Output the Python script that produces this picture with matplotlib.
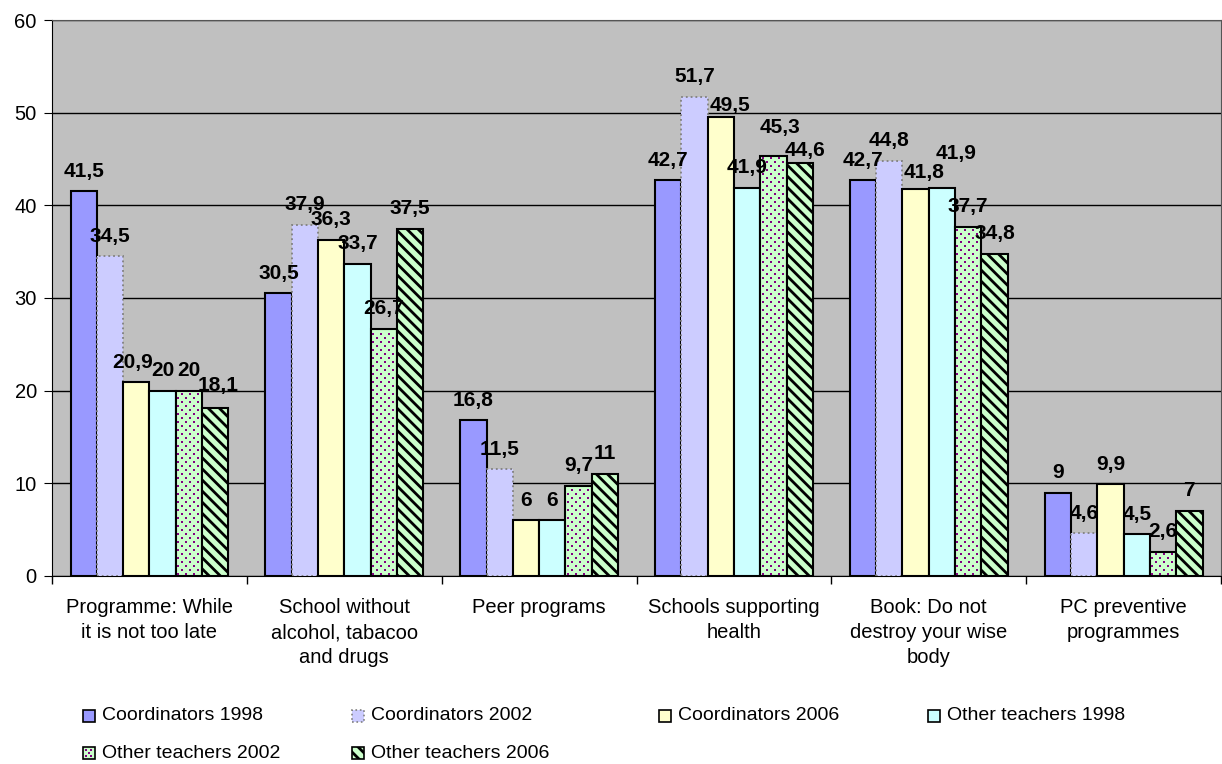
import numpy as np
import matplotlib
matplotlib.use("Agg")
import matplotlib.pyplot as plt
from matplotlib.patches import Rectangle

plt.rcParams['font.family'] = ['Liberation Sans', 'DejaVu Sans']
plt.rcParams['hatch.linewidth'] = 2.0

categories = ["Programme: While\nit is not too late",
              "School without\nalcohol, tabacoo\nand drugs",
              "Peer programs",
              "Schools supporting\nhealth",
              "Book: Do not\ndestroy your wise\nbody",
              "PC preventive\nprogrammes"]
series_names = ["Coordinators 1998", "Coordinators 2002", "Coordinators 2006",
                "Other teachers 1998", "Other teachers 2002", "Other teachers 2006"]
coord_1998 = [41.5, 30.5, 16.8, 42.7, 42.7, 9]
coord_2002 = [34.5, 37.9, 11.5, 51.7, 44.8, 4.6]
coord_2006 = [20.9, 36.3, 6, 49.5, 41.8, 9.9]
other_1998 = [20, 33.7, 6, 41.9, 41.9, 4.5]
other_2002 = [20, 26.7, 9.7, 45.3, 37.7, 2.6]
other_2006 = [18.1, 37.5, 11, 44.6, 34.8, 7]
series = [coord_1998, coord_2002, coord_2006, other_1998, other_2002, other_2006]

colors = ["#9999FF", "#CCCCFF", "#FFFFCC", "#CCFFFF", "#CCFFCC", "#CCFFCC"]
dot_color = "#800080"

# label nudges (pixels, right / up) where the original moved crowded labels
nudge = {(2, 3): (9, -8), (4, 3): (7, 9), (5, 3): (5, -8),
         (2, 4): (8, -4), (3, 4): (14, 14),
         (2, 0): (-4, 0), (5, 0): (3, 3)}

fig = plt.figure(figsize=(12.22, 7.64), dpi=100)
ax = fig.add_axes([0.0426, 0.2461, 0.9566, 0.7277])
ax.set_facecolor("#C0C0C0")

x = np.arange(len(categories))
w = 0.81 / 6
for i, (vals, name, c) in enumerate(zip(series, series_names, colors)):
    pos = x - 0.405 + w * (i + 0.5)
    if i == 1:
        ax.bar(pos, vals, w, color=c, edgecolor="#808080", linestyle=":", linewidth=1.3, zorder=3)
    elif i == 5:
        ax.bar(pos, vals, w, color=c, edgecolor="black", hatch="\\\\\\", linewidth=1.5, zorder=3)
    else:
        ax.bar(pos, vals, w, color=c, edgecolor="black", linewidth=1.5, zorder=3)
    if i == 4:
        # small purple dots, staggered
        dx, dy = 0.0411, 0.4317
        for p, v in zip(pos, vals):
            rows = np.arange(0.25, v - 0.15, dy)
            for k, yy in enumerate(rows):
                xs = np.arange(p - w / 2 + 0.012 + (k % 2) * dx / 2, p + w / 2 - 0.006, dx)
                ax.scatter(xs, np.full(len(xs), yy), s=2.5, marker="s", color=dot_color,
                           linewidths=0, zorder=4)
    for j, (p, v) in enumerate(zip(pos, vals)):
        ox, oy = nudge.get((i, j), (0, 0))
        ax.annotate(("%g" % v).replace(".", ","), (p, v), xytext=(ox * 0.72, 14.5 + oy * 0.72),
                    textcoords="offset points", ha="center", va="center",
                    fontsize=15, fontweight="bold", zorder=5)

ax.set_xlim(-0.5, len(categories) - 0.5)
ax.set_ylim(0, 60)
ax.set_yticks(range(0, 61, 10))
ax.yaxis.grid(True, color="black", linewidth=1, zorder=0)
ax.set_xticks(np.arange(-0.5, len(categories), 1))
ax.set_xticklabels([])
ax.set_xticks(x, minor=True)
ax.set_xticklabels(categories, minor=True, fontsize=14.5, va="top", linespacing=1.4)
ax.tick_params(axis="x", which="minor", length=0, pad=16)
ax.tick_params(axis="x", which="major", length=6, width=1)
ax.tick_params(axis="y", labelsize=14.5, length=6, pad=5)
for s in ax.spines.values():
    s.set_color("black")
ax.spines["top"].set_color("#555555")
ax.spines["right"].set_color("#555555")

# legend, laid out like the original (4 columns, 2 rows)
W, H = 1222.0, 764.0
leg_x = [83, 352, 659, 928, 83, 352]
leg_y = [716, 716, 716, 716, 753, 753]
sq = 12
for i, name in enumerate(series_names):
    x0, yc = leg_x[i] / W, 1 - leg_y[i] / H
    kw = dict(facecolor=colors[i], edgecolor="black", linewidth=1.2, transform=fig.transFigure)
    if i == 1:
        kw.update(edgecolor="#808080", linestyle=":")
    if i == 5:
        kw.update(hatch="\\\\\\")
    fig.add_artist(Rectangle((x0, yc - sq / 2 / H), sq / W, sq / H, **kw))
    if i == 4:
        for ox, oy in [(3, 3), (8, 3), (5.5, 6), (3, 9), (8, 9)]:
            fig.add_artist(Rectangle(((leg_x[i] + ox - 1) / W, 1 - (leg_y[i] - sq / 2 + oy + 1) / H),
                                     2 / W, 2 / H, facecolor=dot_color, edgecolor="none",
                                     transform=fig.transFigure))
    fig.text((leg_x[i] + 19) / W, yc, name, fontsize=14, va="center", ha="left")

fig.savefig("out.png", dpi=100, facecolor="white")
